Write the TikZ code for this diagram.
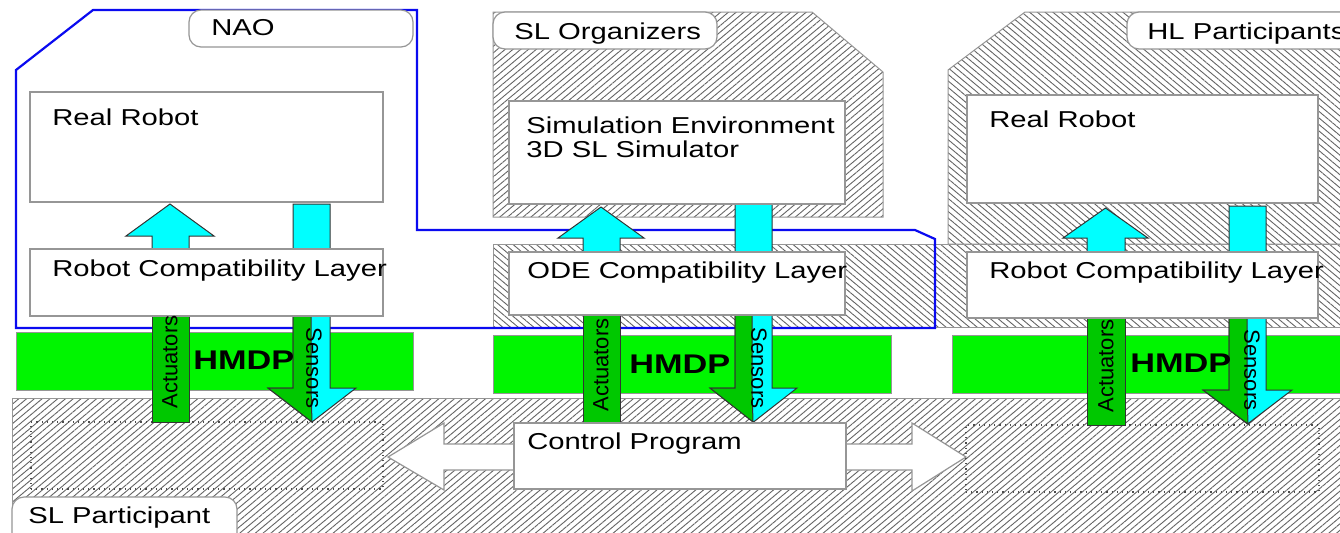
\documentclass[tikz,border=0pt]{standalone}
\usepackage{fontspec}
\setmainfont{Liberation Sans}[FakeStretch=1.27]
\newfontfamily\sidefont{Liberation Sans}
\usetikzlibrary{patterns.meta,fit}

\definecolor{boxgray}{RGB}{150,150,150}
\definecolor{hatchgray}{RGB}{100,100,100}
\definecolor{hmdpgreen}{RGB}{0,245,0}
\definecolor{busgreen}{RGB}{0,200,0}
\definecolor{flowcyan}{RGB}{0,255,255}
\definecolor{naoblue}{RGB}{10,10,240}

% block arrow pointing up: shaft x1..x2, head hx1..hx2, tip y, head base y, shaft end y
\newcommand\blockup[8][]{%
  \draw[#1] (#2,#8) -- (#2,#7) -- (#4,#7) -- ({(#4+#5)/2},#6) -- (#5,#7) -- (#3,#7) -- (#3,#8) -- cycle;}
% block arrow pointing down: shaft x1..x2, head hx1..hx2, tip y, head base y, shaft start y
\newcommand\blockdown[8][]{%
  \draw[#1] (#2,#8) -- (#2,#7) -- (#4,#7) -- ({(#4+#5)/2},#6) -- (#5,#7) -- (#3,#7) -- (#3,#8) -- cycle;}

\begin{document}
\begin{tikzpicture}[x=0.5pt,y=-0.5pt,
  box/.style={draw=boxgray, line width=0.6pt, fill=white, inner sep=0pt, outer sep=0pt},
  tag/.style={draw=boxgray, line width=0.6pt, fill=white, rounded corners=6pt, inner sep=0pt, outer sep=0pt},
  dotbox/.style={draw=black!70, line width=0.6pt, dotted, inner sep=0pt, outer sep=0pt},
  txt/.style={anchor=base west, inner sep=0pt, font=\fontsize{11.5pt}{12pt}\selectfont},
  hmdptxt/.style={anchor=base west, inner sep=0pt, font=\fontsize{13.5pt}{14pt}\selectfont\bfseries},
  sidetxt/.style={inner sep=0pt, font=\sidefont\fontsize{11pt}{12pt}\selectfont},
  hatchup/.style={draw=boxgray, line width=0.5pt,
    pattern={Lines[angle=40,distance=2.5pt,line width=0.45pt]}, pattern color=hatchgray},
  hatchdown/.style={draw=boxgray, line width=0.5pt,
    pattern={Lines[angle=-40,distance=2.5pt,line width=0.45pt]}, pattern color=hatchgray},
  hmdp/.style={draw=boxgray, line width=0.5pt, fill=hmdpgreen, inner sep=0pt, outer sep=0pt},
  cyanarrow/.style={draw=black!80, line width=0.5pt, fill=flowcyan},
  greenarrow/.style={draw=black!80, line width=0.5pt, fill=busgreen},
  naoline/.style={draw=naoblue, line width=1.1pt},
  exchange/.style={draw=boxgray, line width=0.6pt, fill=white}
]
\useasboundingbox (0,0) rectangle (1340,532);
\clip (0,0) rectangle (1340,532);
\fill[white] (0,0) rectangle (1340,532);

% ---- hatched organisation areas ----
\draw[hatchup]   (493,12) -- (812,12) -- (883,72) -- (883,217) -- (493,217) -- cycle;
\draw[hatchdown] (1025,12) -- (1360,12) -- (1360,244) -- (948,244) -- (948,70) -- cycle;
\draw[hatchdown] (493,244) rectangle (1360,327);
\draw[hatchup]   (12,398) rectangle (1360,560);

% ---- NAO boundary ----
\draw[naoline] (16,70) -- (93,10) -- (417,10) -- (417,230) -- (915,230) -- (935,239) -- (935,328) -- (16,328) -- cycle;

% ---- organisation tags ----
\node[tag, fit={(189,10) (413,47)}] (naotag) {};
\node[txt] (naolbl) at (211,35) {NAO};
\node[tag, fit={(493,12) (717,49)}] (sltag) {};
\node[txt] (sllbl) at (514,39) {SL Organizers};
\node[tag, fit={(1127,12) (1400,49)}] (hltag) {};
\node[txt] (hllbl) at (1147,39) {HL Participants};
\node[tag, fit={(12,497) (237,560)}] (parttag) {};
\node[txt] (partlbl) at (28,523) {SL Participant};

% ---- HMDP bars ----
\node[hmdp, fit={(16,332) (413,390)}] (hmdpA) {};
\node[hmdp, fit={(493,335) (891,393)}] (hmdpB) {};
\node[hmdp, fit={(952,335) (1400,393)}] (hmdpC) {};

% ---- exchange between control programs ----
\draw[exchange] (388,457) -- (444,423) -- (444,444) -- (912,444) -- (912,423) -- (966,457)
  -- (912,491) -- (912,470) -- (444,470) -- (444,490) -- cycle;
\node[dotbox, fit={(31,422) (383,489)}] (ctrlA) {};
\node[dotbox, fit={(966,425) (1319,492)}] (ctrlC) {};

% ---- actuator / sensor flows, left ----
\blockup[cyanarrow]{152}{189}{126}{214}{204}{236}{260}
\draw[greenarrow] (152,300) rectangle (189,422);
\blockdown[cyanarrow]{293}{330}{268}{356}{422}{388}{204}
\draw[greenarrow] (293,300) -- (293,388) -- (268,388) -- (312,422) -- (311,388) -- (311,300);

% ---- actuator / sensor flows, middle ----
\blockup[cyanarrow]{583}{620}{558}{644}{207}{238}{262}
\draw[greenarrow] (583,300) rectangle (620,422);
\blockdown[cyanarrow]{735}{772}{710}{797}{422}{388}{204}
\draw[greenarrow] (735,300) -- (735,388) -- (710,388) -- (753,422) -- (752,388) -- (752,300);

% ---- actuator / sensor flows, right ----
\blockup[cyanarrow]{1087}{1125}{1063}{1148}{208}{238}{262}
\draw[greenarrow] (1087,300) rectangle (1125,425);
\blockdown[cyanarrow]{1229}{1266}{1203}{1292}{424}{390}{206}
\draw[greenarrow] (1229,300) -- (1229,390) -- (1203,390) -- (1248,424) -- (1247,390) -- (1247,300);

% ---- component boxes ----
\node[box, fit={(30,92) (383,202)}] (robotA) {};
\node[txt] (robotAlbl) at (52,125) {Real Robot};
\node[box, fit={(30,249) (383,316)}] (compA) {};
\node[txt] (compAlbl) at (52,276) {Robot Compatibility Layer};

\node[box, fit={(509,101) (845,204)}] (simB) {};
\node[txt] (simBlbl1) at (526,133) {Simulation Environment};
\node[txt] (simBlbl2) at (526,157) {3D SL Simulator};
\node[box, fit={(509,252) (845,315)}] (compB) {};
\node[txt] (compBlbl) at (527,278) {ODE Compatibility Layer};

\node[box, fit={(967,95) (1318,203)}] (robotC) {};
\node[txt] (robotClbl) at (989,127) {Real Robot};
\node[box, fit={(967,252) (1318,318)}] (compC) {};
\node[txt] (compClbl) at (989,278) {Robot Compatibility Layer};

\node[box, fit={(514,423) (846,489)}] (ctrlB) {};
\node[txt] (ctrlBlbl) at (527,449) {Control Program};

% ---- HMDP and flow labels ----
\node[hmdptxt] (hmdpAlbl) at (193,369) {HMDP};
\node[hmdptxt] (hmdpBlbl) at (629,373) {HMDP};
\node[hmdptxt] (hmdpClbl) at (1130,372) {HMDP};

\node[sidetxt, rotate=90]  (actA) at (170,362) {Actuators};
\node[sidetxt, rotate=-90] (senA) at (314,368) {Sensors};
\node[sidetxt, rotate=90]  (actB) at (601,365) {Actuators};
\node[sidetxt, rotate=-90] (senB) at (759,368) {Sensors};
\node[sidetxt, rotate=90]  (actC) at (1106,366) {Actuators};
\node[sidetxt, rotate=-90] (senC) at (1252,370) {Sensors};
\end{tikzpicture}
\end{document}
